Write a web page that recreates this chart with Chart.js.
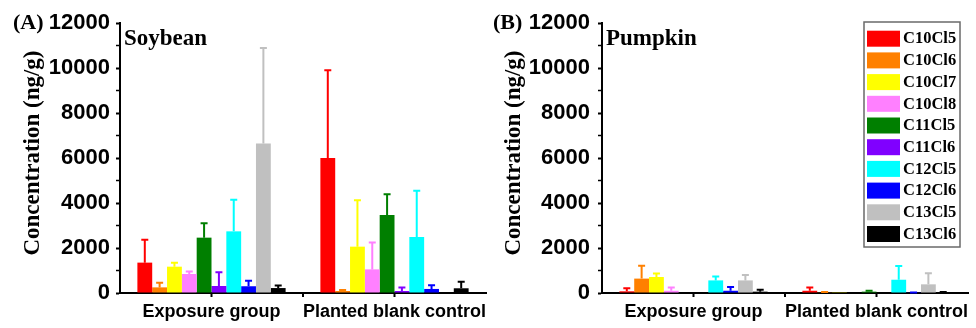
<!DOCTYPE html>
<html>
<head>
<meta charset="utf-8">
<script src="https://cdn.jsdelivr.net/npm/chart.js@4.4.1/dist/chart.umd.min.js"></script>
<style>
  html,body{margin:0;padding:0;background:#fff;}
  #wrap{position:relative;width:976px;height:328px;overflow:hidden;}
  canvas{position:absolute;top:0;}
</style>
</head>
<body>
<div id="wrap">
  <canvas id="chartA" width="488" height="328" style="left:0px"></canvas>
  <canvas id="chartB" width="488" height="328" style="left:488px"></canvas>
</div>
<script>
// ---------- DATA ----------
const categories = ['Exposure group', 'Planted blank control'];
const seriesNames = ['C10Cl5','C10Cl6','C10Cl7','C10Cl8','C11Cl5','C11Cl6','C12Cl5','C12Cl6','C13Cl5','C13Cl6'];
const yTickValues = [0, 2000, 4000, 6000, 8000, 10000, 12000];

// Soybean (A): mean concentrations (ng/g) and standard deviations
const soybeanExposure   = [1350, 250, 1170, 845, 2460, 310, 2740, 300, 6650, 220];
const soybeanExposureSd = [1020, 210, 180, 115, 640, 610, 1410, 250, 4240, 110];
const soybeanBlank      = [6000, 90, 2060, 1050, 3470, 90, 2490, 180, 0, 210];
const soybeanBlankSd    = [3900, 40, 2060, 1200, 920, 160, 2060, 160, 0, 290];

// Pumpkin (B)
const pumpkinExposure   = [75, 640, 710, 100, 0, 0, 560, 100, 560, 60];
const pumpkinExposureSd = [135, 570, 160, 140, 0, 0, 170, 170, 240, 90];
const pumpkinBlank      = [100, 30, 10, 0, 60, 0, 590, 15, 385, 30];
const pumpkinBlankSd    = [150, 10, 0, 0, 40, 0, 610, 5, 490, 10];

// ---------- STYLE ----------
const seriesColors = ['#FF0000','#FF8000','#FFFF00','#FF80FF','#007F00','#8000FF','#00FFFF','#0000FF','#C0C0C0','#000000'];
const SERIF = '"Liberation Serif", "Times New Roman", serif';
const SANS = '"Liberation Sans", Arial, sans-serif';

const errorBarPlugin = {
  id: 'errorBars',
  afterDatasetsDraw(chart) {
    const ctx = chart.ctx, y = chart.scales.y;
    chart.data.datasets.forEach((ds, i) => {
      const meta = chart.getDatasetMeta(i);
      meta.data.forEach((bar, j) => {
        const sd = ds.errors[j];
        if (!sd) return;
        const top = y.getPixelForValue(ds.data[j] + sd);
        ctx.save();
        ctx.strokeStyle = ds.backgroundColor;
        ctx.lineWidth = 2;
        ctx.beginPath();
        ctx.moveTo(bar.x, bar.y);
        ctx.lineTo(bar.x, top);
        ctx.moveTo(bar.x - 3.5, top);
        ctx.lineTo(bar.x + 3.5, top);
        ctx.stroke();
        ctx.restore();
      });
    });
  }
};

const decorPlugin = {
  id: 'decor',
  afterDraw(chart, args, opts) {
    const ctx = chart.ctx, x = chart.scales.x, ca = chart.chartArea;
    ctx.save();
    // boundary tick between categories
    const mid = (x.getPixelForTick(0) + x.getPixelForTick(1)) / 2;
    ctx.strokeStyle = '#000'; ctx.lineWidth = 2;
    ctx.beginPath(); ctx.moveTo(mid, ca.bottom); ctx.lineTo(mid, ca.bottom + 4); ctx.stroke();
    // panel label
    ctx.fillStyle = '#000';
    ctx.font = 'bold 22px ' + SERIF;
    ctx.textBaseline = 'middle'; ctx.textAlign = 'left';
    ctx.fillText(opts.panel, opts.panelX, 23);
    // crop name
    ctx.font = 'bold 23px ' + SERIF;
    ctx.fillText(opts.crop, ca.left + 4, 39);
    // y-axis title
    ctx.save();
    ctx.translate(opts.titleX, 153);
    ctx.rotate(-Math.PI / 2);
    ctx.textAlign = 'center';
    ctx.font = 'bold 23px ' + SERIF;
    ctx.fillText('Concentration (ng/g)', 0, 0);
    ctx.restore();
    // legend
    if (opts.legend) {
      const L = opts.legend;
      ctx.strokeStyle = '#6a6a6a'; ctx.lineWidth = 1.5;
      ctx.strokeRect(L.x, L.y, L.w, L.h);
      ctx.font = 'bold 16.5px ' + SERIF;
      ctx.textBaseline = 'middle';
      chart.data.datasets.forEach((ds, i) => {
        const top = L.y + 8.7 + i * 21.7;
        ctx.fillStyle = ds.backgroundColor;
        ctx.fillRect(L.x + 3, top, 33, 16);
        ctx.fillStyle = '#000';
        ctx.fillText(ds.label, L.x + 39, top + 8.5);
      });
    }
    ctx.restore();
  }
};

function makeChart(canvasId, exp, expSd, blank, blankSd, o) {
  const datasets = seriesNames.map((name, i) => ({
    label: name,
    data: [exp[i], blank[i]],
    errors: [expSd[i], blankSd[i]],
    backgroundColor: seriesColors[i],
    borderWidth: 0,
    categoryPercentage: 0.81,
    barPercentage: 1.0
  }));
  return new Chart(document.getElementById(canvasId), {
    type: 'bar',
    data: { labels: categories, datasets },
    options: {
      responsive: false,
      animation: false,
      devicePixelRatio: 1,
      layout: { padding: { left: 0, right: o.rightPad, top: 23, bottom: 0 } },
      plugins: {
        legend: { display: false },
        tooltip: { enabled: false },
        decor: { panel: o.panel, panelX: o.panelX, crop: o.crop, titleX: o.titleX, legend: o.legend }
      },
      scales: {
        x: {
          grid: { display: true, drawOnChartArea: false, offset: false, tickLength: 4, tickWidth: 2, tickColor: '#000' },
          border: { display: true, color: '#000', width: 2 },
          ticks: { color: '#000', padding: 4, autoSkip: false, font: { family: SANS, size: 18, weight: 'bold' }, maxRotation: 0, minRotation: 0 },
          afterFit(s) { s.height = 35; s.paddingLeft = 0; s.paddingRight = 0; }
        },
        y: {
          min: 0, max: 12000,
          grid: { display: true, drawOnChartArea: false, tickLength: 4, tickColor: '#000',
                  tickWidth: c => (c.tick && yTickValues.includes(c.tick.value)) ? 2 : 1.5 },
          border: { display: true, color: '#000', width: 2 },
          ticks: {
            stepSize: 1000, color: '#000', padding: o.tickPad, autoSkip: false,
            font: { family: SANS, size: 22, weight: 'bold' },
            callback: v => yTickValues.includes(v) ? String(v) : ''
          },
          afterFit(s) { s.width = o.yWidth; s.paddingTop = 0; s.paddingBottom = 0; }
        }
      }
    },
    plugins: [errorBarPlugin, decorPlugin]
  });
}

makeChart('chartA', soybeanExposure, soybeanExposureSd, soybeanBlank, soybeanBlankSd,
  { rightPad: 2, yWidth: 120, tickPad: 6, panel: '(A)', panelX: 13, crop: 'Soybean', titleX: 33 });
makeChart('chartB', pumpkinExposure, pumpkinExposureSd, pumpkinBlank, pumpkinBlankSd,
  { rightPad: 8, yWidth: 114, tickPad: 8, panel: '(B)', panelX: 5, crop: 'Pumpkin', titleX: 26,
    legend: { x: 376, y: 22, w: 96, h: 225 } });
</script>
</body>
</html>
